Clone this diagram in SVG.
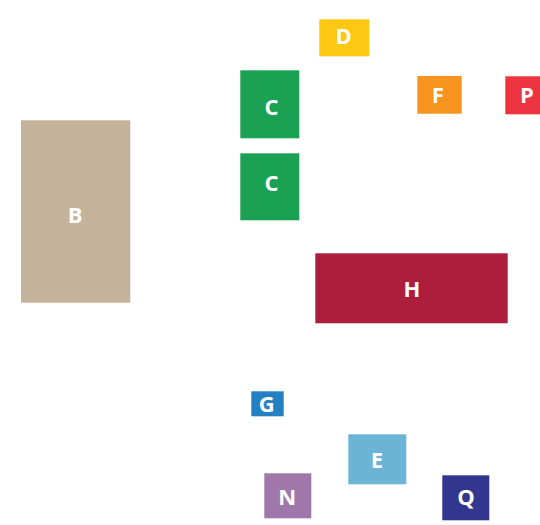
<svg xmlns="http://www.w3.org/2000/svg" width="540" height="525" viewBox="0 0 540 525">
<style>
text{font-family:"Open Sans","Noto Sans","Liberation Sans",sans-serif;font-weight:bold;font-size:22px;fill:#fff;text-anchor:middle}
</style>
<rect width="540" height="525" fill="#fff"/>
<g id="connectors"></g>
<g id="D"><rect x="319.3" y="19.3" width="50" height="37" fill="#FEC813"/><text x="343.7" y="43.5">D</text></g>
<g id="C1"><rect x="240.3" y="70.3" width="59" height="68" fill="#1AA154"/><text x="271.6" y="115">C</text></g>
<g id="C2"><rect x="240.3" y="153.3" width="59" height="67" fill="#1AA154"/><text x="271.4" y="191.3">C</text></g>
<g id="F"><rect x="417.3" y="76" width="44.4" height="37.7" fill="#F7941F"/><text x="437.8" y="102.6">F</text></g>
<g id="P"><rect x="505.3" y="76.3" width="44" height="38" fill="#EE3440"/><text x="527" y="102.6">P</text></g>
<g id="B"><rect x="21" y="120.3" width="109.3" height="182.4" fill="#C4B29A"/><text x="75.2" y="223.2">B</text></g>
<g id="H"><rect x="315.3" y="253.3" width="192.4" height="70" fill="#AC1E3C"/><text x="411.8" y="296.5">H</text></g>
<g id="G"><rect x="251.3" y="391.3" width="32.4" height="25" fill="#2481C1"/><text x="266.7" y="412">G</text></g>
<g id="E"><rect x="348.3" y="434.3" width="58" height="50" fill="#6BB4D6"/><text x="376.8" y="468.2">E</text></g>
<g id="N"><rect x="264.3" y="473.3" width="47" height="45" fill="#A077AA"/><text x="287.2" y="504.8">N</text></g>
<g id="Q"><rect x="442.3" y="475.3" width="47" height="45" fill="#33368F"/><text x="466" y="505">Q</text></g>
</svg>
